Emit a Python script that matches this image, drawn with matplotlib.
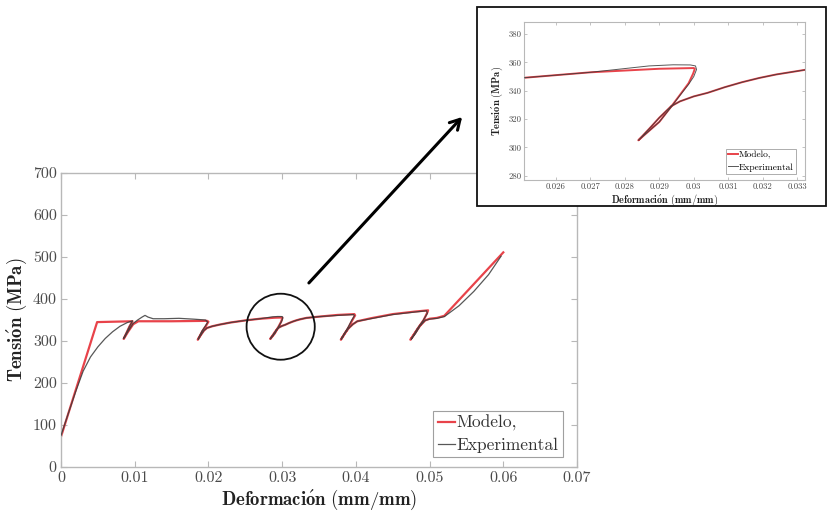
import matplotlib
matplotlib.use("Agg")
import matplotlib.pyplot as plt
from matplotlib.patches import Ellipse, Rectangle, FancyArrowPatch

plt.rcParams['mathtext.fontset'] = 'cm'
plt.rcParams['font.family'] = ['cmr10', 'DejaVu Serif']
plt.rcParams['axes.formatter.use_mathtext'] = True

# ---------------- data ----------------
model_x = [0.0, 0.0049, 0.0097, 0.0093, 0.0085, 0.0091, 0.0098, 0.0105, 0.0150, 0.0198,
           0.0200, 0.0197, 0.0192, 0.01855, 0.0190, 0.0194, 0.0198, 0.0205, 0.0215, 0.0230,
           0.0250, 0.0270, 0.0290, 0.0300, 0.03003, 0.02998, 0.02985, 0.02956, 0.02931, 0.0290,
           0.02839, 0.0287, 0.0290, 0.02934, 0.0296, 0.0300, 0.0304, 0.0309, 0.0314, 0.0319,
           0.0324, 0.0333, 0.0350, 0.0375, 0.0398, 0.0399, 0.0395, 0.0390, 0.03796, 0.0385,
           0.0390, 0.0396, 0.0402, 0.0420, 0.0450, 0.0480, 0.0498, 0.0497, 0.0492, 0.0484,
           0.0474, 0.0480, 0.0487, 0.0494, 0.0500, 0.0510, 0.0520, 0.0600]
model_y = [72, 345, 347, 335, 305, 322, 340, 347, 347, 348,
           346, 337, 324, 303, 315, 325, 331, 335, 339, 344,
           349, 353, 355.5, 356, 355.5, 352, 345.3, 335.8, 327.7, 318,
           305, 313, 321, 329, 332.5, 336, 338.5, 342.5, 346, 349,
           351.5, 355, 358, 362, 364, 361, 349, 332, 303, 318,
           330, 340, 347, 354, 364, 370, 373, 368, 350, 330,
           303, 318, 336, 349, 353, 355, 360, 511]

exp_x = [0.0, 0.0010, 0.0020, 0.0030, 0.0040, 0.0050, 0.0060, 0.0070, 0.0080, 0.0090,
         0.0097, 0.0093, 0.0085, 0.0091, 0.0098, 0.0104, 0.0110, 0.0114, 0.0118, 0.0125,
         0.0140, 0.0160, 0.0180, 0.0196, 0.0199, 0.0196, 0.0191, 0.0186, 0.0190, 0.0194,
         0.0198, 0.0205, 0.0215, 0.0230, 0.0250, 0.0270, 0.0287, 0.0294, 0.0299, 0.03005,
         0.03008, 0.03, 0.02985, 0.02956, 0.02931, 0.0290, 0.02839, 0.0287, 0.0290, 0.02934,
         0.0296, 0.0300, 0.0304, 0.0309, 0.0314, 0.0319, 0.0324, 0.0333, 0.0350, 0.0375,
         0.0397, 0.0398, 0.0394, 0.0389, 0.0380, 0.0385, 0.0390, 0.0396, 0.0402, 0.0420,
         0.0450, 0.0480, 0.0496, 0.0497, 0.0491, 0.0483, 0.0475, 0.0481, 0.0487, 0.0494,
         0.0500, 0.0510, 0.0520, 0.0540, 0.0560, 0.0580, 0.0597]
exp_y = [75, 128, 180, 228, 262, 286, 306, 322, 335, 344,
         348, 335, 306, 323, 342, 350, 357, 361, 357, 353,
         353, 354, 352, 350, 345, 336, 323, 304, 315, 325,
         331, 335, 339, 344, 349, 353, 357.5, 358.3, 358.2, 357.5,
         355, 350, 344.5, 335.5, 327.5, 318, 305, 313, 321, 329,
         332.5, 336, 338.5, 342.5, 346, 349, 351.5, 355, 358, 361,
         363, 360, 348, 331, 304, 318, 330, 340, 347, 353,
         363, 369, 372, 366, 348, 328, 304, 318, 336, 349,
         352, 354, 358, 384, 418, 458, 502]

x_ticks = [0, 0.01, 0.02, 0.03, 0.04, 0.05, 0.06, 0.07]
x_labels = ["0", "0.01", "0.02", "0.03", "0.04", "0.05", "0.06", "0.07"]
y_ticks = [0, 100, 200, 300, 400, 500, 600, 700]
y_labels = ["0", "100", "200", "300", "400", "500", "600", "700"]

in_x_ticks = [0.026, 0.027, 0.028, 0.029, 0.030, 0.031, 0.032, 0.033]
in_x_labels = ["0.026", "0.027", "0.028", "0.029", "0.03", "0.031", "0.032", "0.033"]
in_y_ticks = [280, 300, 320, 340, 360, 380]
in_y_labels = ["280", "300", "320", "340", "360", "380"]

series_names = ["Modelo,", "Experimental"]
xlabel = r'$\mathbf{Deformaci\acute{o}n\ (mm/mm)}$'
ylabel = r'$\mathbf{Tensi\acute{o}n\ (MPa)}$'

RED = '#e8434a'
BLK = '#3a3a3a'
SPINE = '#b8b8b8'
TXT = '#4a4a4a'

W, H = 829, 519
fig = plt.figure(figsize=(W / 100, H / 100), dpi=100)
fig.patch.set_facecolor('white')

def px_rect(l, t, r, b):
    return [l / W, 1 - b / H, (r - l) / W, (b - t) / H]

# ---------------- main axes ----------------
ax = fig.add_axes(px_rect(61, 173, 577, 467))
ax.set_zorder(0)
ax.plot(model_x, model_y, color=RED, lw=1.6, label=series_names[0], zorder=2)
ax.plot(exp_x, exp_y, color=BLK, lw=0.9, alpha=0.85, label=series_names[1], zorder=3)
ax.set_xlim(0, 0.07)
ax.set_ylim(0, 700)
ax.set_xticks(x_ticks, labels=x_labels)
ax.set_yticks(y_ticks, labels=y_labels)
ax.tick_params(direction='in', top=True, right=True, length=4, width=0.8,
               color=SPINE, labelcolor=TXT, labelsize=11.5, pad=3)
for s in ax.spines.values():
    s.set_color(SPINE)
    s.set_linewidth(1.0)
ax.set_xlabel(xlabel, fontsize=13.5, color='#222222', labelpad=2)
ax.set_ylabel(ylabel, fontsize=13.5, color='#222222', labelpad=3)
leg = ax.legend(loc='lower right', bbox_to_anchor=((563 - 61) / 516, (467 - 457) / 294),
                fontsize=12.5, frameon=True, fancybox=False, borderaxespad=0,
                edgecolor='#888888', handlelength=1.0, handletextpad=0.1,
                borderpad=0.25, labelspacing=0.35)
leg.get_frame().set_linewidth(0.8)
for t in leg.get_texts():
    t.set_color('#333333')

# circle highlighting loop
ax.add_patch(Ellipse((0.0298, 334), width=68 / 7350, height=66 / 0.42,
                     fill=False, edgecolor='#111111', lw=1.3, zorder=4))

# ---------------- inset frame ----------------
frame = Rectangle((477 / W, 1 - 206 / H), (826 - 477) / W, (206 - 7) / H,
                  transform=fig.transFigure, facecolor='white',
                  edgecolor='#111111', lw=1.3, zorder=1)
fig.patches.append(frame)

# ---------------- inset axes ----------------
axi = fig.add_axes(px_rect(524, 22, 805, 180))
axi.set_zorder(2)
axi.plot(model_x, model_y, color=RED, lw=1.4, label=series_names[0], zorder=2)
axi.plot(exp_x, exp_y, color=BLK, lw=0.7, alpha=0.85, label=series_names[1], zorder=3)
axi.set_xlim(0.02507, 0.03323)
axi.set_ylim(277, 388.5)
axi.set_xticks(in_x_ticks, labels=in_x_labels)
axi.set_yticks(in_y_ticks, labels=in_y_labels)
axi.tick_params(direction='in', top=True, right=True, length=2.5, width=0.6,
                color=SPINE, labelcolor=TXT, labelsize=6.3, pad=2)
for s in axi.spines.values():
    s.set_color(SPINE)
    s.set_linewidth(0.8)
axi.set_xlabel(xlabel, fontsize=7.3, color='#222222', labelpad=1)
axi.set_ylabel(ylabel, fontsize=7.5, color='#222222', labelpad=2)
legi = axi.legend(loc='lower right', bbox_to_anchor=((796 - 524) / 281, (180 - 174) / 158),
                  fontsize=6.8, frameon=True, fancybox=False, borderaxespad=0,
                  edgecolor='#888888', handlelength=1.0, handletextpad=0.1,
                  borderpad=0.25, labelspacing=0.35)
legi.get_frame().set_linewidth(0.6)

# ---------------- arrow ----------------
arrow = FancyArrowPatch((307 / W, 1 - 285 / H), (464 / W, 1 - 115 / H),
                        transform=fig.transFigure, arrowstyle='->,head_length=7,head_width=4',
                        color='black', lw=2.2, zorder=3)
fig.patches.append(arrow)

fig.savefig('out.png', dpi=100)
